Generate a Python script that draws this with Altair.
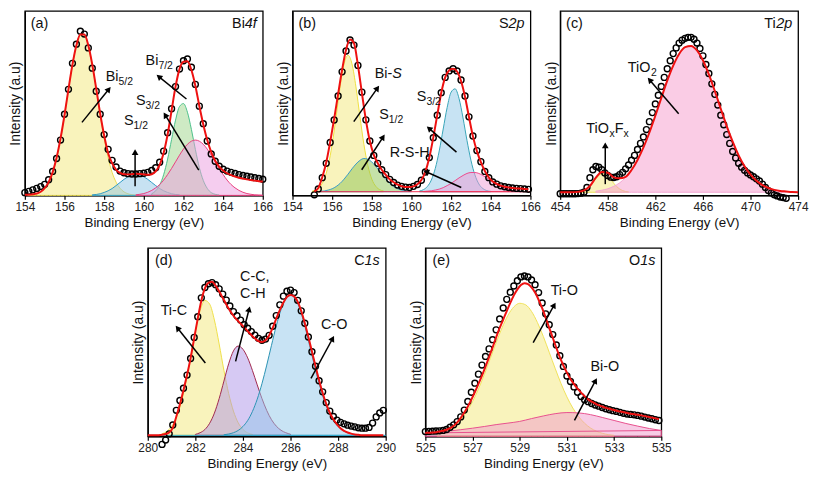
import math
import altair as alt
import pandas as pd

FONT = "Liberation Sans"

# ---------------- panel (a) Bi4f ----------------
A_X0, A_STEP = 154.0, 0.2
A_SCAN = [1.5, 2.2, 3.0, 3.8, 4.8, 6.0, 8.5, 13.0, 20.0, 30.0,
          44.0, 57.5, 71.6, 82.0, 89.0, 87.5, 80.0, 69.0, 56.5, 44.0,
          33.0, 25.0, 19.0, 15.4, 13.2, 12.3, 11.8, 11.6, 11.6, 11.8,
          12.0, 12.5, 13.5, 15.0, 18.0, 24.0, 34.0, 47.0, 59.0, 68.5,
          73.0, 74.0, 69.5, 60.2, 48.4, 38.9, 29.5, 22.5, 18.5, 15.8,
          14.2, 13.2, 12.5, 11.9, 11.3, 10.8, 10.4, 10.0, 9.6, 9.2, 8.8]
A_FIT = [0.3, 0.4, 0.6, 1.0, 2.0, 3.9, 7.2, 12.5, 20.4, 30.9,
         43.6, 57.6, 70.9, 81.4, 87.2, 87.2, 81.4, 70.9, 57.9, 44.3,
         32.5, 22.9, 17.5, 14.0, 12.2, 11.5, 11.4, 11.5, 11.7, 11.6,
         11.4, 11.2, 11.5, 13.0, 16.5, 23.0, 33.0, 46.0, 59.0, 68.5,
         72.5, 72.8, 68.0, 59.5, 48.5, 38.5, 30.0, 23.5, 18.8, 15.6,
         13.5, 12.0, 11.0, 10.2, 9.6, 9.1, 8.7, 8.3, 8.0, 7.7, 7.5]
A_YELLOW = [0.06, 0.16, 0.39, 0.9, 1.9, 3.9, 7.2, 12.5, 20.4, 30.9, 43.6, 57.6, 70.9, 81.4, 87.2,
            87.2, 81.4, 70.9, 57.6, 43.6, 30.9, 20.4, 12.5, 7.2, 3.9, 1.9, 0.9, 0.39, 0.16, 0.06]
A_BLUE = [0.3, 0.5, 0.9, 1.6, 2.5, 3.7, 5.3, 7.0, 8.7, 10.1, 11.1, 11.5, 11.1, 10.1, 8.7, 7.0,
          5.3, 3.7, 2.5, 1.6, 0.9, 0.5, 0.3]
A_GREEN = [0.9, 2.5, 5.6, 11.2, 19.7, 30.3, 40.8, 48.2, 49.8, 45.1, 35.8, 24.9, 15.1, 8.1, 3.8, 1.5, 0.6, 0.2]
A_PINK = [0.3, 0.6, 1.0, 1.7, 2.7, 4.1, 5.9, 8.3, 11.3, 14.6, 18.2, 21.8, 25.1, 27.7, 29.4, 30.0,
          29.4, 27.7, 25.1, 21.8, 18.2, 14.6, 11.3, 8.3, 5.9, 4.1, 2.7, 1.7, 1.0, 0.6, 0.3, 0.2, 0.1]

# ---------------- panel (b) S2p ----------------
B_X0, B_STEP = 155.1, 0.2
B_SCAN = [0.3, 3.5, 9.6, 17.4, 28.7, 40.9, 53.9, 67.0, 78.3, 84.3,
          81.5, 70.5, 56.0, 41.0, 29.5, 21.7, 17.4, 13.9, 11.3, 8.7,
          7.0, 5.6, 4.9, 4.5, 4.3, 4.9, 5.9, 8.2, 12.7, 20.5,
          31.3, 43.5, 55.7, 64.0, 67.5, 68.7, 67.5, 62.6, 53.9, 42.6,
          32.2, 24.3, 18.3, 13.0, 9.6, 7.3, 6.1, 5.2, 4.7, 4.3,
          4.0, 3.8, 3.7, 3.5, 3.3]
B_FIT = [2.2, 4.0, 9.8, 17.8, 29.0, 41.5, 55.0, 68.0, 79.0, 84.5,
         82.5, 70.5, 55.5, 41.0, 29.5, 22.0, 17.4, 13.9, 11.2, 8.8,
         7.1, 5.8, 5.0, 4.6, 4.5, 4.9, 6.0, 8.3, 12.8, 20.5,
         31.3, 43.5, 55.5, 64.0, 67.8, 68.7, 67.2, 62.0, 53.5, 42.5,
         32.0, 24.0, 18.0, 13.2, 9.8, 7.5, 6.2, 5.3, 4.7, 4.3,
         4.0, 3.8, 3.7, 3.5, 3.3]
B_BASE = 2.0
B_YELLOW = [2.35, 3.1, 4.9, 8.8, 16.2, 27.7, 42.8, 58.8, 71.3, 76.0, 71.3, 58.8, 42.8, 27.7, 16.2,
            8.8, 4.9, 3.1, 2.35]
B_GREEN = [2.2, 2.4, 2.9, 3.6, 4.8, 6.5, 8.8, 11.5, 14.4, 17.0, 19.0, 20.0, 19.6, 18.1, 15.8, 12.9,
           10.1, 7.6, 5.6, 4.1, 3.2, 2.6, 2.3, 2.1]
B_BLUE = [2.35, 3.1, 4.8, 8.3, 14.6, 24.1, 36.0, 47.7, 56.0, 57.8, 52.5, 42.0, 29.8, 19.0, 11.1,
          6.2, 3.7, 2.6, 2.2]
B_PINK = [2.1, 2.3, 2.5, 2.9, 3.4, 4.2, 5.3, 6.5, 8.0, 9.5, 10.8, 11.9, 12.4, 12.4, 11.9, 10.8,
          9.5, 8.0, 6.5, 5.3, 4.2, 3.4, 2.9, 2.5, 2.3, 2.1]

# ---------------- panel (c) Ti2p ----------------
C_X0, C_STEP = 454.0, 0.25
C_SCAN = [0.9, 0.9, 0.9, 0.9, 0.9, 0.9, 1.0, 1.2, 1.7, 4.3,
          9.6, 13.9, 15.7, 15.3, 13.9, 12.2, 10.8, 9.9, 9.7, 10.1,
          11.3, 12.5, 14.4, 16.5, 19.1, 21.7, 24.9, 28.2, 31.7, 35.7,
          40.0, 44.9, 49.6, 54.3, 59.1, 64.0, 68.7, 73.0, 76.9, 80.0,
          82.6, 84.2, 85.2, 85.7, 85.7, 84.7, 82.6, 79.7, 75.7, 71.0,
          66.1, 60.5, 54.8, 49.0, 43.5, 38.3, 33.0, 28.2, 23.8, 20.3,
          17.4, 15.3, 13.6, 12.2, 11.1, 10.1, 9.0, 7.8, 6.1, 4.3,
          2.6, 1.4, 0.3, -0.3, -0.9, -1.2, -1.6]
C_FIT_X0, C_FIT_STEP = 454.0, 0.5
C_FIT = [1.7, 1.7, 1.7, 1.9, 2.7, 5.1, 9.6, 12.7, 12.3, 9.8,
         9.3, 10.1, 13.8, 19.2, 26.0, 34.1, 43.2, 52.8, 62.2, 70.4,
         76.7, 80.4, 81.0, 78.6, 73.3, 65.6, 56.6, 47.0, 37.6, 29.1,
         21.7, 15.8, 11.2, 7.9, 5.6, 4.0, 3.0, 2.4, 2.1, 1.8, 1.7]
C_BASE = 1.7
C_YELLOW = [1.9, 2.2, 2.7, 3.7, 5.1, 7.0, 9.0, 10.7, 11.6, 11.5, 10.4, 8.6, 6.6, 4.8, 3.5, 2.6, 2.1, 1.9]
C_PINK = [2.3, 2.8, 3.6, 4.9, 6.8, 9.7, 13.8, 19.2, 26.0, 34.1, 43.2, 52.8, 62.2, 70.4, 76.7, 80.4,
          81.0, 78.6, 73.3, 65.6, 56.6, 47.0, 37.6, 29.1, 21.7, 15.8, 11.2, 7.9, 5.6, 4.0, 3.0, 2.4, 2.1]

# ---------------- panel (d) C1s ----------------
D_X0, D_STEP = 280.6, 0.15
D_SCAN = [-4.3, -2.0, 1.3, 6.0, 13.8, 19.0, 25.5, 32.5, 41.3, 52.5,
          63.5, 73.5, 79.0, 81.0, 81.6, 80.5, 78.3, 75.5, 72.3, 69.2,
          66.2, 64.0, 61.7, 59.2, 57.4, 55.6, 53.7, 52.0, 51.0, 51.6,
          53.6, 58.4, 64.1, 69.8, 74.4, 77.0, 77.6, 76.3, 72.2, 66.6,
          60.0, 52.7, 44.9, 37.2, 29.5, 23.6, 17.9, 13.4, 10.5, 8.6,
          7.4, 6.6, 5.9, 5.4, 5.0, 4.5, 4.3, 4.3, 4.7, 7.0,
          10.3, 12.4, 13.8]
D_FIT_X0 = 280.0
D_FIT = [0.5, 0.5, 0.5, 0.6,
         0.8, 1.2, 2.0, 4.5, 10.5, 17.0, 24.5, 32.5, 41.5, 52.0,
         62.5, 72.0, 78.5, 81.5, 82.0, 80.0, 77.0, 73.5, 70.0, 66.8,
         64.0, 61.8, 59.8, 57.8, 55.8, 53.8, 52.0, 50.5, 50.0, 51.0,
         53.5, 57.5, 62.5, 67.0, 71.0, 74.0, 75.0, 74.3, 71.5, 66.5,
         60.0, 52.7, 45.0, 37.2, 29.8, 23.0, 17.2, 12.5, 9.0, 6.3,
         4.3, 2.9, 2.0, 1.4, 1.0, 0.8, 0.6, 0.5, 0.5, 0.5,
         0.5, 0.5, 0.5]
D_BASE = 0.5
D_YELLOW = [1.3, 2.6, 5.2, 9.9, 17.6, 28.6, 41.9, 55.7, 66.7, 72.1, 70.2, 61.7, 49.0, 35.0, 22.7,
            13.4, 7.2, 3.7, 1.8, 1.0]
D_PURPLE = [1.0, 1.9, 3.6, 6.9, 12.3, 20.0, 29.3, 38.5, 45.3, 47.9, 46.2, 41.6, 34.9, 27.3, 20.0,
            13.7, 8.8, 5.4, 3.2, 1.9, 1.1]
D_BLUE = [0.8, 1.2, 1.9, 3.1, 5.2, 8.4, 13.2, 19.7, 28.0, 37.8, 48.3, 58.6, 67.2, 73.0, 75.0, 73.0,
          67.2, 58.6, 48.3, 37.8, 28.0, 19.7, 13.2, 8.4, 5.2, 3.1, 1.9, 1.2, 0.8]

# ---------------- panel (e) O1s ----------------
E_X0, E_STEP = 525.0, 0.15
E_SCAN = [2.5, 2.6, 2.7, 2.8, 2.9, 3.1, 3.6, 4.8, 6.1, 7.8,
          10.3, 13.9, 18.5, 23.4, 28.2, 33.0, 37.8, 42.4, 46.4, 51.3,
          56.5, 62.3, 68.1, 72.7, 76.5, 79.8, 82.6, 84.6, 85.1, 84.6,
          83.0, 80.5, 76.3, 70.8, 65.0, 59.2, 54.0, 48.5, 42.8, 37.1,
          32.0, 29.1, 26.2, 23.4, 21.1, 19.4, 18.4, 17.4, 16.6, 16.0,
          15.3, 14.6, 14.1, 13.6, 13.2, 12.7, 12.2, 11.8, 11.6, 11.4,
          11.1, 10.7, 10.2, 9.7, 9.3, 8.8, 8.4]
E_FIT = [1.8, 1.9, 2.0, 2.2, 2.5, 2.9, 3.5, 4.3, 5.6, 7.4,
         9.8, 12.6, 15.8, 19.5, 23.5, 27.8, 32.2, 37.0, 42.0, 47.2,
         52.5, 57.5, 62.0, 66.5, 70.8, 74.8, 78.0, 80.3, 81.3, 80.8,
         79.0, 76.3, 72.5, 68.0, 63.0, 57.6, 52.3, 47.0, 42.0, 37.6,
         33.8, 30.4, 27.7, 25.3, 23.2, 21.3, 19.6, 18.4, 17.4, 16.5,
         15.8, 15.1, 14.6, 14.1, 13.6, 13.2, 12.8, 12.4, 12.0, 11.7,
         11.4, 11.1, 10.7, 10.3, 9.9, 9.5, 9.1]
E_YELLOW = [1.3, 2.2, 3.6, 5.7, 8.8, 13.0, 18.4, 25.1, 32.8, 41.2, 49.7, 57.6, 64.2, 68.7, 70.6,
            69.8, 66.3, 60.4, 53.0, 44.6, 36.1, 28.0, 20.9, 15.0, 10.4, 6.9, 4.4, 2.7, 1.6, 0.9, 0.5]
E_PINK = [1.8, 2.3, 2.8, 3.5, 4.3, 5.2, 6.2, 7.0, 7.9, 9.4, 10.8, 12.0, 12.6, 12.4, 11.5, 10.0,
          8.4, 6.8, 5.4, 4.1, 3.1]
E_PINK_LINE_X = [525.0, 535.0]
E_PINK_LINE_Y = [1.8, 3.1]

# ---------------- annotations ----------------
A_LABELS = [(154.3, 93.5, [("(a)", "n")], "left"), (165.7, 93.5, [("Bi", "n"), ("4f", "i")], "right"),
            (158.08, 64.6, [("Bi", "n"), ("5/2", "s")], "left"),
            (160.09, 73.3, [("Bi", "n"), ("7/2", "s")], "left"),
            (159.6, 51.5, [("S", "n"), ("3/2", "s")], "left"),
            (159.0, 40.9, [("S", "n"), ("1/2", "s")], "left")]
A_ARROWS = [(156.88, 39.6, 158.33, 58.8), (162.15, 52.3, 160.64, 65.4),
            (162.77, 13.7, 161.0, 45.0), (159.56, 4.9, 159.56, 25.1)]
B_LABELS = [(154.3, 93.5, [("(b)", "n")], "left"), (165.7, 93.5, [("S", "n"), ("2p", "i")], "right"),
            (158.15, 66.1, [("Bi-", "n"), ("S", "i")], "left"),
            (158.37, 44.3, [("S", "n"), ("1/2", "s")], "left"),
            (160.27, 53.9, [("S", "n"), ("3/2", "s")], "left"),
            (158.9, 23.5, [("R-S-H", "n")], "left")]
B_ARROWS = [(157.09, 40.0, 158.37, 59.5), (157.49, 13.9, 158.65, 33.0),
            (162.27, 23.5, 160.77, 37.4), (162.51, 4.3, 160.6, 13.5)]
C_LABELS = [(454.5, 93.5, [("(c)", "n")], "left"), (473.5, 93.5, [("Ti", "n"), ("2p", "i")], "right"),
            (459.69, 69.6, [("TiO", "n"), ("2", "s")], "left"),
            (456.2, 36.5, [("TiO", "n"), ("x", "s"), ("F", "n"), ("x", "s")], "left")]
C_ARROWS = [(463.96, 44.3, 461.36, 63.8), (457.79, 6.1, 457.79, 28.7)]
D_LABELS = [(280.3, 93.5, [("(d)", "n")], "left"), (289.75, 93.5, [("C", "n"), ("1s", "i")], "right"),
            (280.54, 66.9, [("Ti-C", "n")], "left"),
            (283.88, 84.9, [("C-C,", "n")], "left"),
            (283.88, 76.3, [("C-H", "n")], "left"),
            (287.28, 59.6, [("C-O", "n")], "left")]
D_ARROWS = [(282.42, 38.9, 281.17, 58.7), (283.69, 39.8, 284.29, 69.0), (286.86, 30.8, 287.83, 53.3)]
E_LABELS = [(525.3, 93.5, [("(e)", "n")], "left"), (534.75, 93.5, [("O", "n"), ("1s", "i")], "right"),
            (530.31, 77.6, [("Ti-O", "n")], "left"),
            (532.0, 37.2, [("Bi-O", "n")], "left")]
E_ARROWS = [(529.57, 49.7, 530.52, 71.0), (531.32, 8.4, 532.27, 30.9)]

# ---------------- helpers ----------------
CW = {"0": .556, "1": .556, "2": .556, "3": .556, "4": .556, "5": .556, "6": .556, "7": .556,
      "8": .556, "9": .556, "B": .667, "i": .222, "S": .667, "T": .611, "O": .778, "F": .611,
      "C": .722, "H": .722, "R": .722, "-": .333, ",": .278, "x": .5, "/": .278, "f": .278,
      "p": .556, "s": .5, "(": .333, ")": .333, "a": .556, "b": .556, "c": .5, "d": .556, "e": .556}
LBL, SUB = 14.5, 10.5


def grid(x0, step, n):
    return [round(x0 + step * i, 4) for i in range(n)]


def tw(s, size):
    return sum(CW.get(c, 0.556) for c in s) * size


def make_panel(p):
    xa, xb = p["xdom"]
    W, H = p["w"], p["h"]
    sx, sy = W / (xb - xa), H / 100.0
    xsc = alt.Scale(domain=[xa, xb], nice=False, zero=False)
    ysc = alt.Scale(domain=[0, 100], nice=False, zero=False)
    xax = alt.Axis(values=p["ticks"], title="Binding Energy (eV)", format="d", grid=False, labelFlush=False)
    yax = alt.Axis(title="Intensity (a.u)", labels=False, ticks=False, grid=False)

    def X(f="x"):
        return alt.X(f, type="quantitative", scale=xsc, axis=xax)

    def Y(f="y"):
        return alt.Y(f, type="quantitative", scale=ysc, axis=yax)

    layers = []
    for (x0, st, vals, base, fill, stroke) in p["comps"]:
        df = pd.DataFrame({"x": grid(x0, st, len(vals)), "y": vals, "b": [base] * len(vals)})
        layers.append(alt.Chart(df).mark_area(fill=fill, stroke=stroke, strokeWidth=1, fillOpacity=0.5,
                                              interpolate="monotone").encode(x=X(), y=Y(), y2=alt.Y2("b")))
    for (lx, ly, col) in p.get("lines", []):
        df = pd.DataFrame({"x": lx, "y": ly})
        layers.append(alt.Chart(df).mark_line(color=col, strokeWidth=1).encode(x=X(), y=Y()))
    sdf = pd.DataFrame({"x": grid(p["scan"][0], p["scan"][1], len(p["scan"][2])), "y": p["scan"][2]})
    layers.append(alt.Chart(sdf).mark_point(shape="circle", filled=False, color="#000", strokeWidth=1.4,
                                            size=36, opacity=1).encode(x=X(), y=Y()))
    fdf = pd.DataFrame({"x": grid(p["fit"][0], p["fit"][1], len(p["fit"][2])), "y": p["fit"][2]})
    layers.append(alt.Chart(fdf).mark_line(color="#ee1111", strokeWidth=2, interpolate="monotone")
                  .encode(x=X(), y=Y()))
    # arrows
    rows, heads = [], []
    for (x1, y1, x2, y2) in p["arrows"]:
        dxp, dyp = (x2 - x1) * sx, -(y2 - y1) * sy
        L = math.hypot(dxp, dyp)
        ux, uy = dxp / L, dyp / L
        ang = math.degrees(math.atan2(ux, -uy)) % 360
        hx, hy = x2 - 3.0 * ux / sx, y2 + 3.0 * uy / sy
        rows.append({"x": x1, "y": y1, "x2": hx, "y2": hy})
        heads.append({"x": hx, "y": hy, "a": ang})
    layers.append(alt.Chart(pd.DataFrame(rows)).mark_rule(color="black", strokeWidth=1.5)
                  .encode(x=X(), y=Y(), x2=alt.X2("x2"), y2=alt.Y2("y2")))
    layers.append(alt.Chart(pd.DataFrame(heads)).mark_point(shape="triangle-up", filled=True, color="black",
                                                            size=45, opacity=1)
                  .encode(x=X(), y=Y(), angle=alt.Angle("a:Q", scale=None)))
    # labels
    groups = {"n": [], "i": [], "s": []}
    for (x, y, parts, anchor) in p["labels"]:
        total = sum(tw(t, SUB if k == "s" else LBL) for t, k in parts)
        off = 0.0 if anchor == "left" else -total
        for t, k in parts:
            groups[k].append({"x": x + off / sx, "y": y, "t": t})
            off += tw(t, SUB if k == "s" else LBL)
    styles = {"n": dict(fontSize=LBL, fontStyle="normal", dy=5),
              "i": dict(fontSize=LBL, fontStyle="italic", dy=5),
              "s": dict(fontSize=SUB, fontStyle="normal", dy=9)}
    for k, rows_ in groups.items():
        if not rows_:
            continue
        layers.append(alt.Chart(pd.DataFrame(rows_)).mark_text(align="left", baseline="alphabetic", font=FONT,
                                                               color="#111", **styles[k])
                      .encode(x=X(), y=Y(), text="t:N"))
    return alt.layer(*layers).properties(width=W, height=H)


TOP_H, BOT_H = 186, 190
YEL, YEL_S = "#f3e77a", "#eadc55"
panel_a = make_panel(dict(
    xdom=(154, 166), w=240, h=TOP_H, ticks=[154, 156, 158, 160, 162, 164, 166],
    comps=[(154.0, 0.2, A_YELLOW, 0, YEL, YEL_S), (157.4, 0.2, A_BLUE, 0, "#8fc6e6", "#2f9bc4"),
           (160.4, 0.2, A_GREEN, 0, "#9ed68a", "#4cc08a"), (159.6, 0.2, A_PINK, 0, "#eb9be0", "#e8407d")],
    scan=(A_X0, A_STEP, A_SCAN), fit=(A_X0, A_STEP, A_FIT), labels=A_LABELS, arrows=A_ARROWS))
panel_b = make_panel(dict(
    xdom=(154, 166), w=240, h=TOP_H, ticks=[154, 156, 158, 160, 162, 164, 166],
    comps=[(155.0, 0.2, B_YELLOW, B_BASE, YEL, "#efe040"), (155.4, 0.2, B_GREEN, B_BASE, "#8cc453", "#3a9bc7"),
           (160.4, 0.2, B_BLUE, B_BASE, "#8fc8e8", "#39a5b8"), (160.6, 0.2, B_PINK, B_BASE, "#f09bd6", "#ec4a8c")],
    lines=[([155.1, 166.0], [B_BASE, B_BASE], "#f03050")],
    scan=(B_X0, B_STEP, B_SCAN), fit=(B_X0, B_STEP, B_FIT), labels=B_LABELS, arrows=B_ARROWS))
panel_c = make_panel(dict(
    xdom=(454, 474), w=240, h=TOP_H, ticks=[454, 458, 462, 466, 470, 474],
    comps=[(455.5, 0.25, C_YELLOW, C_BASE, YEL, YEL_S), (457.0, 0.5, C_PINK, C_BASE, "#f59acb", "#f3a6d2")],
    scan=(C_X0, C_STEP, C_SCAN), fit=(C_FIT_X0, C_FIT_STEP, C_FIT), labels=C_LABELS, arrows=C_ARROWS))
panel_d = make_panel(dict(
    xdom=(280, 290), w=240, h=BOT_H, ticks=[280, 282, 284, 286, 288, 290],
    comps=[(280.6, 0.2, D_YELLOW, D_BASE, YEL, "#efe04a"), (282.0, 0.2, D_PURPLE, D_BASE, "#ad93e8", "#a0284e"),
           (283.2, 0.2, D_BLUE, D_BASE, "#92c8ea", "#2a93b3")],
    lines=[([280.0, 290.0], [D_BASE, D_BASE], "#2aa6cc")],
    scan=(D_X0, D_STEP, D_SCAN), fit=(D_FIT_X0, D_STEP, D_FIT), labels=D_LABELS, arrows=D_ARROWS))
panel_e = make_panel(dict(
    xdom=(525, 535), w=238, h=BOT_H, ticks=[525, 527, 529, 531, 533, 535],
    comps=[(525.5, 0.25, E_YELLOW, 0, YEL, "#f0e25a"), (525.0, 0.5, E_PINK, 0, "#f09acb", "#e8508e")],
    lines=[(E_PINK_LINE_X, E_PINK_LINE_Y, "#e8508e")],
    scan=(E_X0, E_STEP, E_SCAN), fit=(E_X0, E_STEP, E_FIT), labels=E_LABELS, arrows=E_ARROWS))

spacer = alt.Chart(pd.DataFrame({"x": [0.0]})).mark_point(opacity=0).encode(
    x=alt.X("x:Q", axis=None), y=alt.Y("x:Q", axis=None)
).properties(width=84, height=BOT_H, view=alt.ViewBackground(stroke="transparent"))

top = alt.hconcat(panel_a, panel_b, panel_c, spacing=30, bounds="flush")
bottom = alt.hconcat(spacer, panel_d, panel_e, spacing=40, bounds="flush")

chart = alt.vconcat(top, bottom, spacing=17).properties(padding=0, background="white").configure_view(
    stroke="black", strokeWidth=1.3
).configure_axis(
    labelFont=FONT, titleFont=FONT, labelFontSize=12, titleFontSize=13.5, labelColor="#222",
    titleColor="#111", titleFontWeight="normal", domainColor="black", domainWidth=1.3,
    tickColor="black", tickSize=4, tickWidth=1.2, labelPadding=2, titlePadding=3
).configure_axisY(titlePadding=2, titleFontSize=14)

chart.save("out.html", embed_options={"renderer": "svg", "actions": False})
